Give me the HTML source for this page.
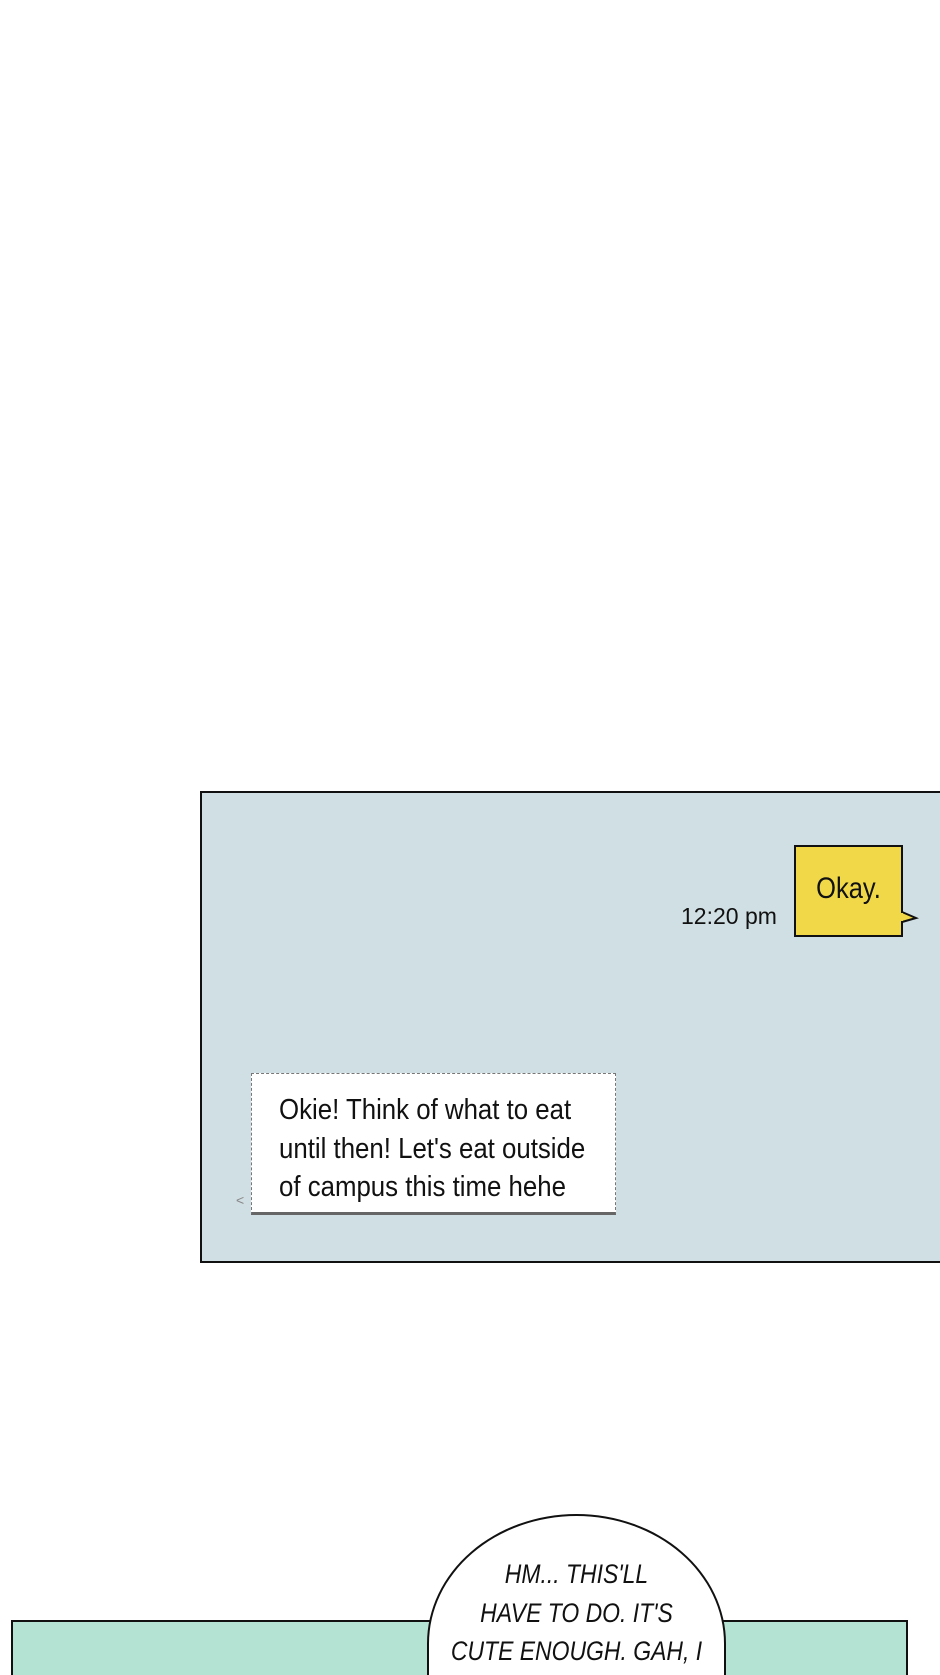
<!DOCTYPE html>
<html style="overflow:hidden;width:940px;height:1675px"><head><style>
html,body{margin:0;padding:0}
body{width:940px;height:1675px;background:#fff;position:relative;overflow:hidden;font-family:"Liberation Sans",sans-serif}
.a{position:absolute}
</style></head><body>
<div class="a" style="left:200px;top:791px;width:760px;height:472px;background:#d0dfe4;border:2px solid #111;box-sizing:border-box"></div>
<div class="a" style="left:681px;top:903px;font-size:23px;color:#111">12:20 pm</div>
<div class="a" style="left:794px;top:845px;width:109px;height:92px;background:#f0d848;border:2px solid #111;box-sizing:border-box"></div>
<svg class="a" style="left:900px;top:908px" width="20" height="20"><polygon points="2,4 16,10 2,14" fill="#f0d848" stroke="#111" stroke-width="2"/><rect x="0" y="5" width="3" height="8" fill="#f0d848"/></svg>
<div class="a" style="left:794px;width:109px;top:872px;text-align:center;font-size:30px;color:#111;transform:scaleX(0.85)">Okay.</div>
<div class="a" style="left:251px;top:1073px;width:365px;height:142px;background:#fff;border:1px dashed #777;border-bottom:3px solid #666;box-sizing:border-box"></div>
<div class="a" style="left:279px;top:1091px;font-size:29px;line-height:38.5px;color:#111;transform:scaleX(0.89);transform-origin:0 0;white-space:nowrap">Okie! Think of what to eat<br>until then! Let's eat outside<br>of campus this time hehe</div>
<div class="a" style="left:236px;top:1192px;font-size:14px;color:#888">&lt;</div>
<div class="a" style="left:11px;top:1620px;width:897px;height:80px;background:#b5e3d3;border:2px solid #111;box-sizing:border-box"></div>
<div class="a" style="left:427px;top:1514px;width:299px;height:200px;background:#fff;border:2px solid #111;border-radius:150px 150px 0 0/130px 130px 0 0;box-sizing:border-box"></div>
<div class="a" style="left:427px;width:299px;top:1555px;text-align:center;font-size:27px;line-height:38.5px;font-style:italic;color:#111;transform:scaleX(0.85)">HM... THIS'LL<br>HAVE TO DO. IT'S<br>CUTE ENOUGH. GAH, I</div>
</body></html>
